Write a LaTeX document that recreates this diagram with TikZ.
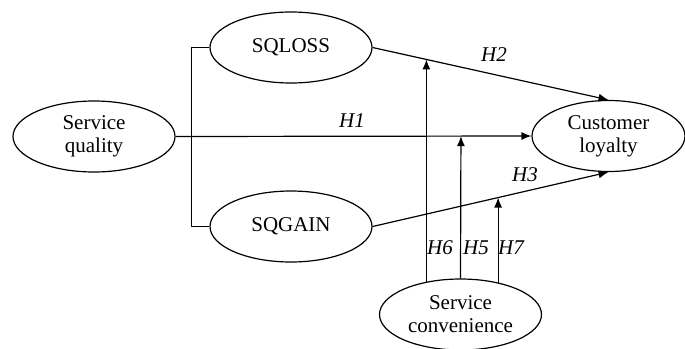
\documentclass[tikz,border=0pt]{standalone}
\usepackage{fontspec}
\setmainfont{Liberation Serif}
\usetikzlibrary{shapes,arrows.meta}

\begin{document}
\begin{tikzpicture}[x=0.5pt,y=-0.5pt]
\tikzstyle{every node}=[font=\fontsize{10.5}{11.5}\selectfont]
\tikzstyle{construct}=[draw,ellipse,line width=0.6pt,inner sep=0pt,minimum width=81pt,minimum height=35.5pt,align=center]
\tikzstyle{hyp}=[font=\fontsize{10.5}{11.5}\selectfont\itshape]
\tikzstyle{link}=[line width=0.6pt,-{Latex[length=5pt,width=4pt]}]
\useasboundingbox (0,0) rectangle (685,348);
\node [construct] (quality) at (94,136.5) {Service\\quality};
\node [construct] (sqloss) at (291,47.5) {SQLOSS};
\node [construct] (sqgain) at (291,226.5) {SQGAIN};
\node [construct,minimum width=76.5pt] (loyalty) at (608.5,136) {Customer\\loyalty};
\node [construct] (conv) at (460.5,314.5) {Service\\convenience};
% bracket and main paths
\draw [line width=0.6pt] (sqloss.west) -- ++(-18,0) |- (sqgain.west);
\draw [link] (quality.east) -- (loyalty.west) coordinate[pos=0.802] (m5);
\draw [link] (sqloss.east) -- (loyalty.north) coordinate[pos=0.228] (m6);
\draw [link] (sqgain.east) -- (loyalty.south) coordinate[pos=0.532] (m7);
% moderating paths
\draw [link] (m6 |- conv.137.6) -- (m6);
\draw [link] (conv.north) -- (m5);
\draw [link] (m7 |- conv.40.6) -- (m7);
\node [hyp] (h1) at (352,121) {H1};
\node [hyp] (h2) at (494,55) {H2};
\node [hyp] (h3) at (525,175) {H3};
\node [hyp] (h6) at (440,248) {H6};
\node [hyp] (h5) at (476,248) {H5};
\node [hyp] (h7) at (511,248) {H7};
\end{tikzpicture}
\end{document}
